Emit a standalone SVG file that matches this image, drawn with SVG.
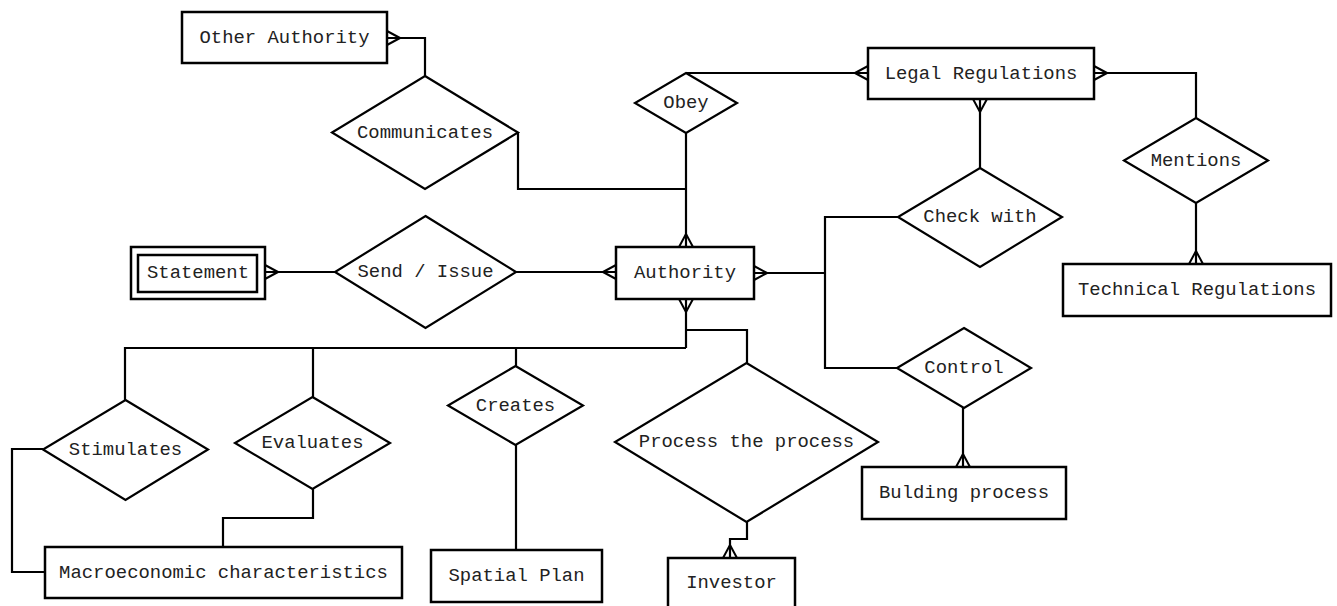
<svg xmlns="http://www.w3.org/2000/svg" width="1337" height="606" viewBox="0 0 1337 606">
<style>
.ent{fill:#fff;stroke:#000;stroke-width:2.5}
.rel{fill:#fff;stroke:#000;stroke-width:2.2}
.c{fill:none;stroke:#000;stroke-width:2.2}
text{font-family:"Liberation Mono","Courier New",monospace;font-size:18.9px;fill:#222;text-anchor:middle;dominant-baseline:central}
</style>
<defs>
<marker id="many" markerUnits="userSpaceOnUse" markerWidth="20" markerHeight="20" refX="0" refY="0" orient="auto" overflow="visible">
<path d="M-13,0 L0,-7 M-13,0 L0,7 M-13,0 L0,0" fill="none" stroke="#000" stroke-width="2"/>
</marker>
</defs>
<rect width="1337" height="606" fill="#fff"/>
<g id="connectors">
<path class="c" d="M425,76 V38 H387" marker-end="url(#many)"/>
<path class="c" d="M518,132 V189 H686"/>
<path class="c" d="M686,73 H868" marker-end="url(#many)"/>
<path class="c" d="M686,133 V247" marker-end="url(#many)"/>
<path class="c" d="M980,168 V99" marker-end="url(#many)"/>
<path class="c" d="M1196,118 V73 H1094" marker-end="url(#many)"/>
<path class="c" d="M1196,203 V264" marker-end="url(#many)"/>
<path class="c" d="M335,272 H265" marker-end="url(#many)"/>
<path class="c" d="M516,272 H616" marker-end="url(#many)"/>
<path class="c" d="M825,273 H754" marker-end="url(#many)"/>
<path class="c" d="M898,217 H825 V368 H897"/>
<path class="c" d="M963,408 V467" marker-end="url(#many)"/>
<path class="c" d="M686,348 V299" marker-end="url(#many)"/>
<path class="c" d="M125,400 V348 H686"/>
<path class="c" d="M313,397 V348"/>
<path class="c" d="M516,366 V348"/>
<path class="c" d="M686,330 H747 V363"/>
<path class="c" d="M747,522 V539 H730 V558" marker-end="url(#many)"/>
<path class="c" d="M43,449 H12 V572 H45"/>
<path class="c" d="M313,489 V518 H223 V547"/>
<path class="c" d="M516,445 V550"/>
</g>
<g id="other-authority"><rect class="ent" x="182" y="12" width="205" height="51"/><text x="284.5" y="38">Other Authority</text></g>
<g id="communicates"><polygon class="rel" points="425,76 518,132.5 425,189 332,132.5"/><text x="425" y="132.5">Communicates</text></g>
<g id="obey"><polygon class="rel" points="686,73 737,103 686,133 635,103"/><text x="686" y="103">Obey</text></g>
<g id="legal-regulations"><rect class="ent" x="868" y="48" width="226" height="51"/><text x="981" y="73.5">Legal Regulations</text></g>
<g id="mentions"><polygon class="rel" points="1196,118 1268,160.5 1196,203 1124,160.5"/><text x="1196" y="160.5">Mentions</text></g>
<g id="technical-regulations"><rect class="ent" x="1063" y="264" width="268" height="52"/><text x="1197" y="290">Technical Regulations</text></g>
<g id="check-with"><polygon class="rel" points="980,168 1062,217 980,267 898,217"/><text x="980" y="217">Check with</text></g>
<g id="statement"><rect class="ent" x="131" y="247" width="134" height="52"/><rect class="ent" x="138" y="255" width="119" height="37"/><text x="198" y="273">Statement</text></g>
<g id="send-issue"><polygon class="rel" points="425.5,216 516,272 425.5,328 335,272"/><text x="425.5" y="272">Send / Issue</text></g>
<g id="authority"><rect class="ent" x="616" y="247" width="138" height="52"/><text x="685" y="273">Authority</text></g>
<g id="control"><polygon class="rel" points="964,328 1031,368 964,408 897,368"/><text x="964" y="368">Control</text></g>
<g id="bulding-process"><rect class="ent" x="862" y="467" width="204" height="52"/><text x="964" y="493">Bulding process</text></g>
<g id="stimulates"><polygon class="rel" points="125.5,400 208,449.5 125.5,500 43,449.5"/><text x="125.5" y="449.5">Stimulates</text></g>
<g id="evaluates"><polygon class="rel" points="312.5,397 390,443 312.5,489 235,443"/><text x="312.5" y="443">Evaluates</text></g>
<g id="creates"><polygon class="rel" points="515.5,366 583,405.5 515.5,445 448,405.5"/><text x="515.5" y="405.5">Creates</text></g>
<g id="process-the-process"><polygon class="rel" points="746.5,363 878,442 746.5,522 615,442"/><text x="746.5" y="442">Process the process</text></g>
<g id="macroeconomic-characteristics"><rect class="ent" x="45" y="547" width="357" height="51"/><text x="223.5" y="573">Macroeconomic characteristics</text></g>
<g id="spatial-plan"><rect class="ent" x="431" y="550" width="171" height="52"/><text x="516.5" y="576">Spatial Plan</text></g>
<g id="investor"><rect class="ent" x="668" y="558" width="127" height="52"/><text x="731.5" y="583">Investor</text></g>
</svg>
